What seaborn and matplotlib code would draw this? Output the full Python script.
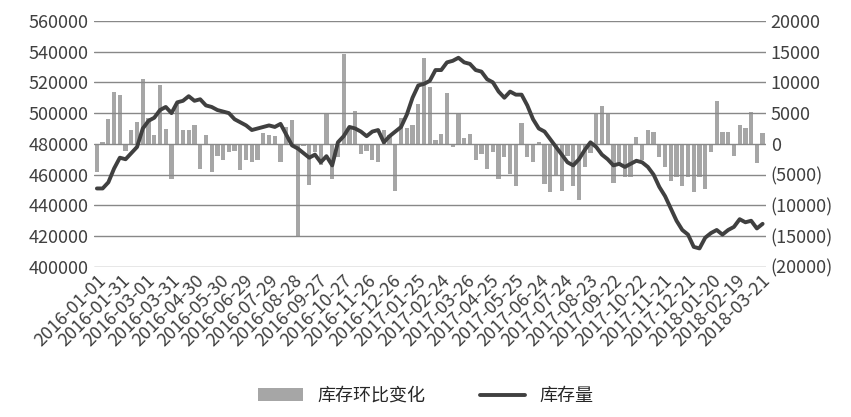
import numpy as np
import pandas as pd
import seaborn as sns
import matplotlib.pyplot as plt
import matplotlib.dates as mdates
from matplotlib.ticker import FuncFormatter

dates = pd.date_range('2016-01-01', periods=117, freq='7D')

stock = [451000, 451000, 455000, 464000, 471000, 470000, 474000, 478000, 490000, 495000,
         497000, 502000, 504000, 500000, 507000, 508000, 511000, 508000, 509000, 505000,
         504000, 502000, 501000, 500000, 496000, 494000, 492000, 489000, 490000, 491000,
         492000, 491000, 493000, 486000, 479000, 477000, 474000, 471000, 473000, 468000,
         472000, 466000, 481000, 485000, 491000, 490000, 488000, 485000, 488000, 489000,
         481000, 485000, 488000, 491000, 499000, 510000, 518000, 519000, 521000, 528000,
         528000, 533000, 534000, 536000, 533000, 532000, 528000, 527000, 522000, 520000,
         514000, 510000, 514000, 512000, 512000, 505000, 496000, 490000, 488000, 483000,
         478000, 473000, 468000, 466000, 470000, 476000, 481000, 478000, 473000, 470000,
         466000, 467000, 465000, 467000, 469000, 468000, 465000, 460000, 452000, 446000,
         438000, 430000, 424000, 421000, 413000, 412000, 419000, 422000, 424000, 421000,
         424000, 426000, 431000, 429000, 430000, 425000, 428000]

change = [-4500, 300, 4000, 8500, 7900, -1100, 2300, 3600, 10500, 4200,
          1500, 9500, 2400, -5700, 6700, 2200, 2200, 3000, -4100, 1500,
          -4600, -1900, -2700, -1400, -1100, -4300, -2700, -3000, -2700, 1800,
          1500, 1200, -3000, 2700, 3800, -15000, -300, -6700, -1400, -3400,
          4900, -5700, -2200, 14600, 2600, 5400, -1600, -1100, -2700, -3000,
          2300, 1500, -7600, 4200, 2600, 3000, 6500, 13900, 9200, 650,
          1600, 8300, -500, 5000, 1000, 1600, -2600, -1600, -4100, -1400,
          -5700, -2200, -4900, -6800, 3400, -2200, -3000, 300, -6600, -7900,
          -5200, -7600, -1900, -6800, -9200, -3800, -1500, 4800, 6100, 4900,
          -6400, -3200, -5400, -5400, 1100, -2700, 2300, 2000, -2200, -3800,
          -6000, -5400, -6800, -5400, -7900, -5400, -7300, -1400, 6900, 2000,
          2000, -1900, 3100, 2600, 5100, -3100, 1800, -5200, 3400]
change = change[:117]

sns.set_style('white')
plt.rcParams['font.family'] = ['Noto Sans CJK SC', 'DejaVu Sans']

fig, ax = plt.subplots(figsize=(8.51, 4.17), dpi=100)
ax2 = ax.twinx()
ax2.bar(dates, change, width=5.2, color='#a6a6a6', linewidth=0, label='库存环比变化')
sns.lineplot(x=dates, y=stock, ax=ax, color='#404040', linewidth=2.8, label='库存量')
ax.set_zorder(ax2.get_zorder() + 1)
ax.patch.set_visible(False)

ax.set_ylim(400000, 560000)
ax.set_yticks(range(400000, 560001, 20000))
ax2.set_ylim(-20000, 20000)
ax2.set_yticks(range(-20000, 20001, 5000))
ax2.yaxis.set_major_formatter(FuncFormatter(lambda v, p: f'({-int(v)})' if v < 0 else f'{int(v)}'))
ax.yaxis.grid(True, color='#888888', linewidth=1)
ax.set_xlim(dates[0] - pd.Timedelta(days=4), dates[-1] + pd.Timedelta(days=4))
ticks = pd.date_range('2016-01-01', '2018-03-31', freq='30D')
ax.set_xticks(ticks)
ax.set_xticklabels([d.strftime('%Y-%m-%d') for d in ticks], rotation=45, ha='right',
                   rotation_mode='anchor')
for a in (ax, ax2):
    for s in a.spines.values():
        s.set_visible(False)
    a.tick_params(labelsize=13, colors='#404040', length=0)
ax.set_xlabel('')

h1, l1 = ax2.get_legend_handles_labels()
h2, l2 = ax.get_legend_handles_labels()
ax.legend().remove()
fig.legend(h1 + h2, l1 + l2, loc='lower center', ncol=2, frameon=False, fontsize=13,
           bbox_to_anchor=(0.5, -0.01), handlelength=2.5, columnspacing=3)
fig.subplots_adjust(left=0.11, right=0.9, top=0.95, bottom=0.36)
fig.savefig('out.png', dpi=100)
